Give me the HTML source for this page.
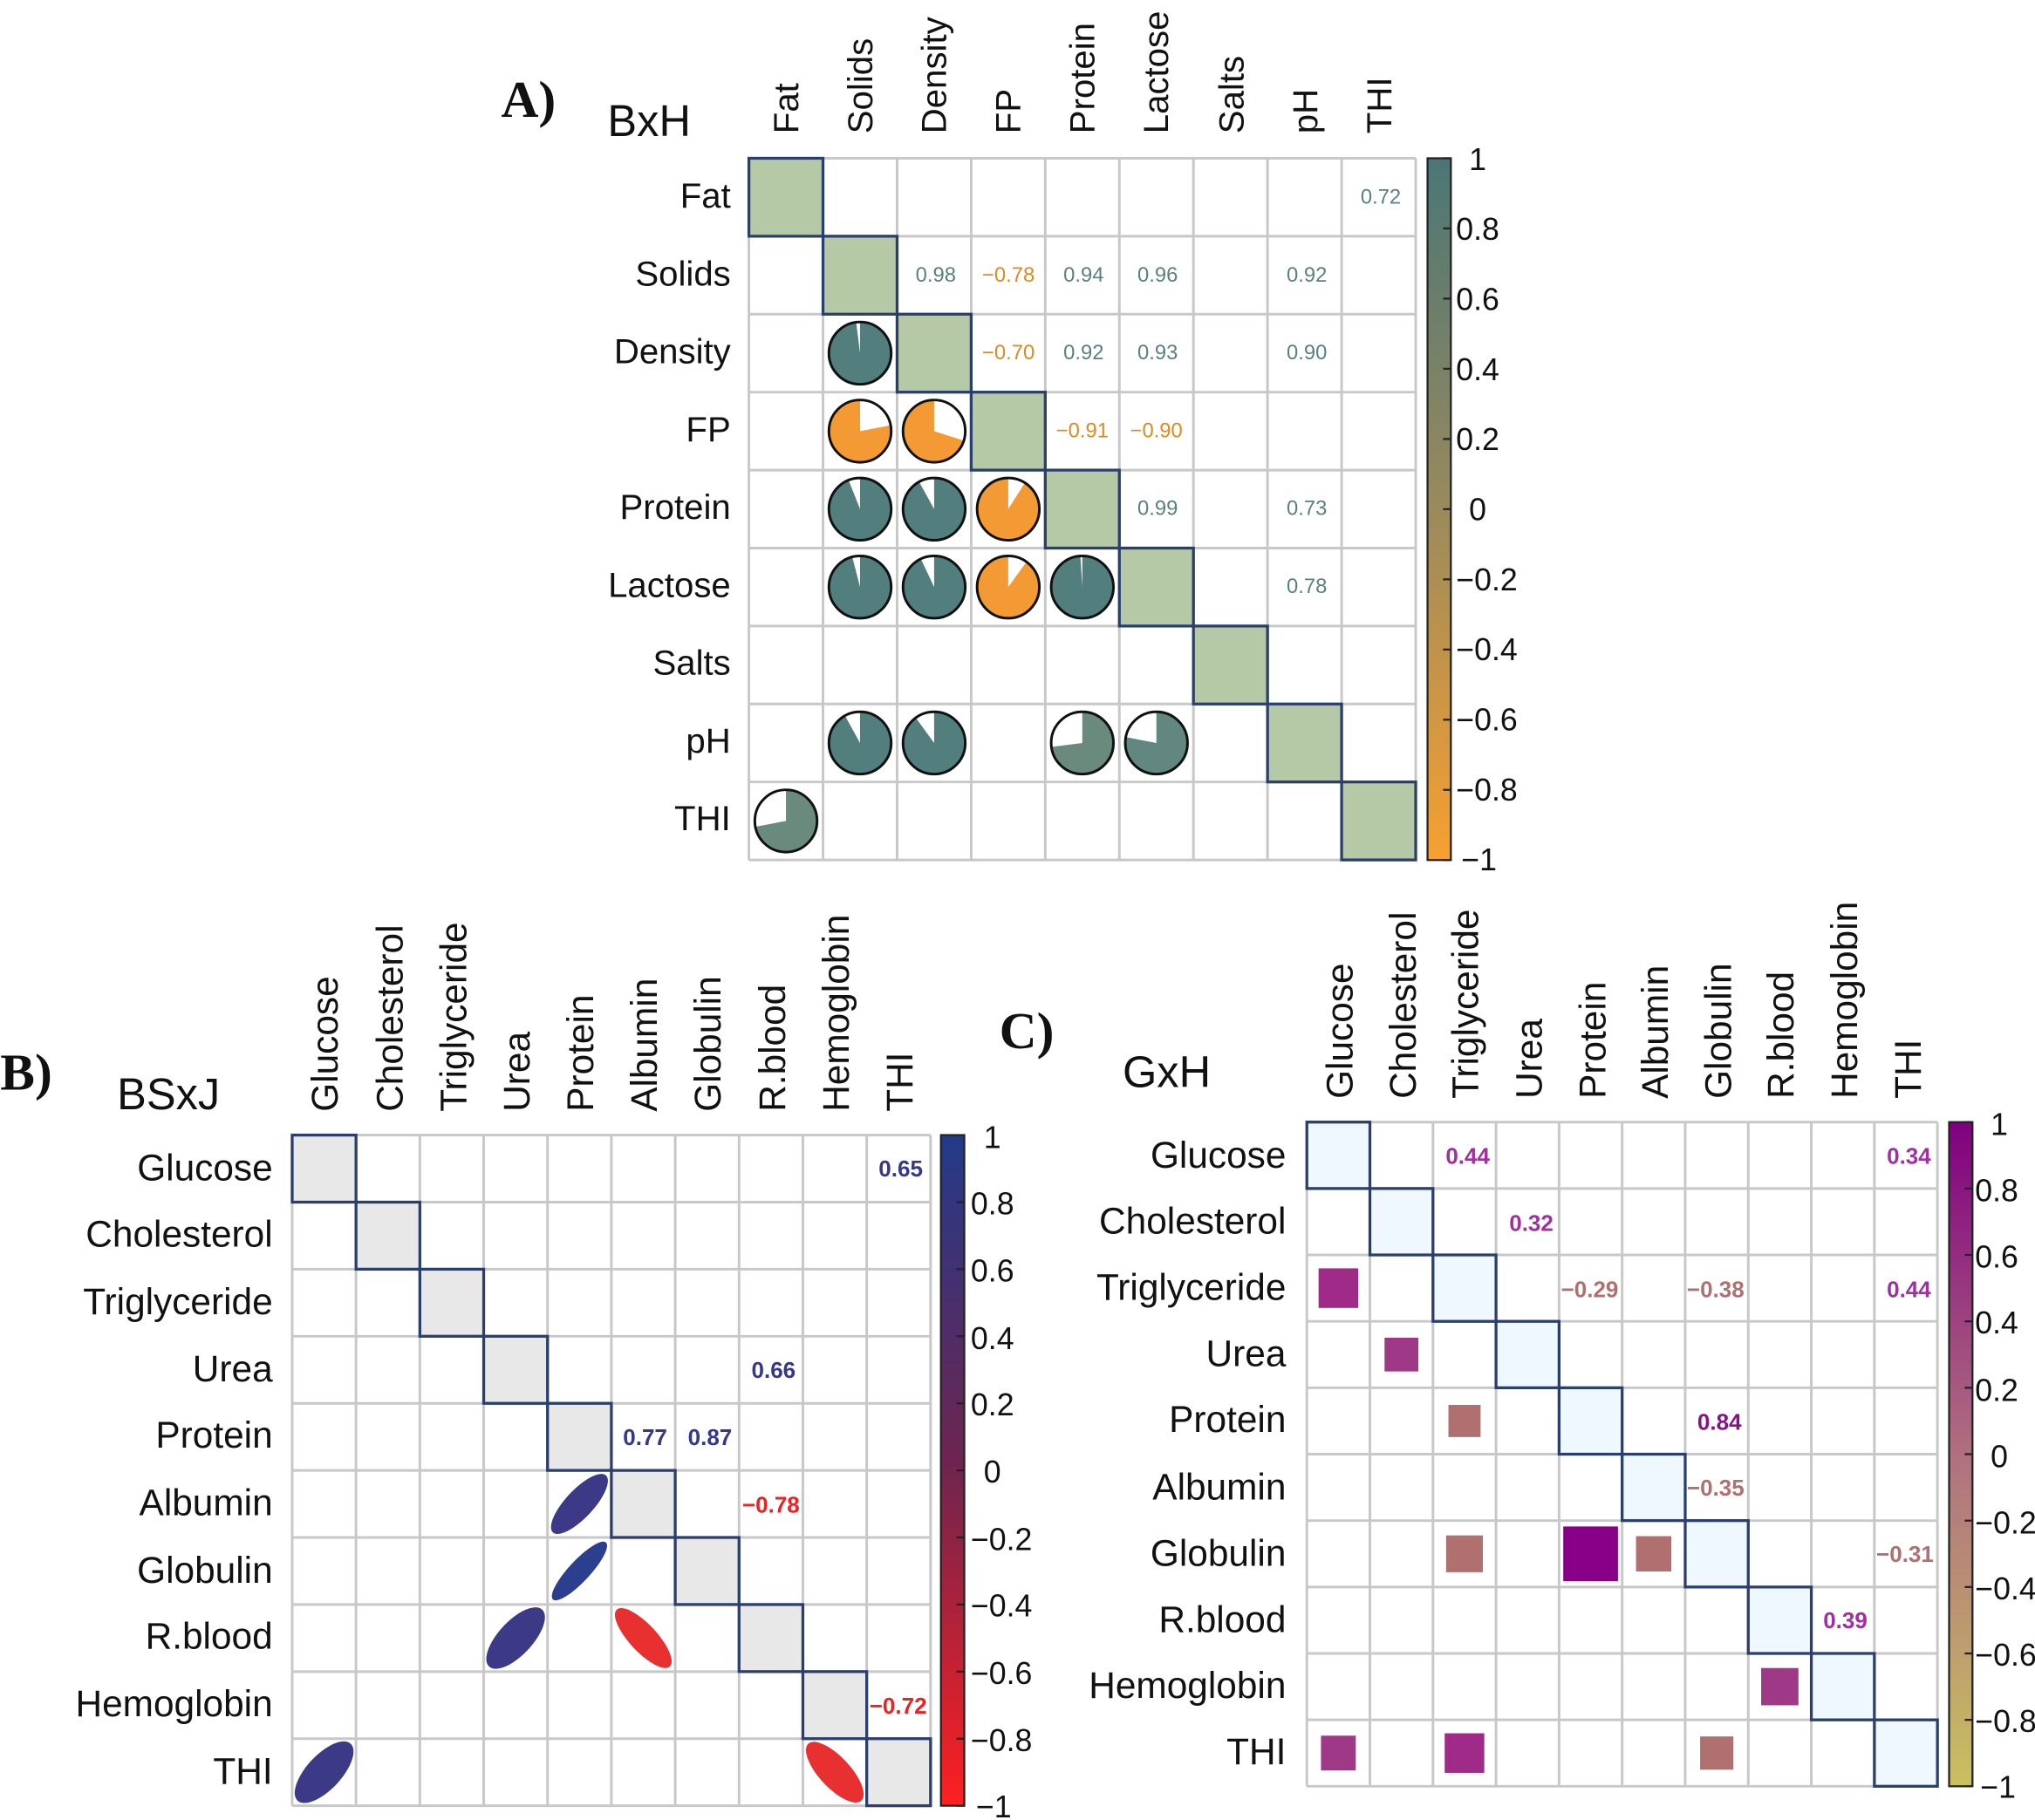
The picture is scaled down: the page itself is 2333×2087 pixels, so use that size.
<!DOCTYPE html>
<html><head><meta charset="utf-8"><style>
html,body{margin:0;padding:0;background:#fff}
svg{display:block}
text{font-family:"Liberation Sans",sans-serif;fill:#111}
.lab{font-size:27px}
.labb{font-size:28.5px}
.v{font-size:16px}
.vb{font-size:17.5px;font-weight:600}
.ser{font-family:"Liberation Serif",serif;font-weight:bold;font-size:40px}
</style></head><body>
<svg id="s" width="2333" height="2087" viewBox="0 0 1568 1403" xmlns="http://www.w3.org/2000/svg">
<defs>
<linearGradient id="gA" x1="0" y1="0" x2="0" y2="1"><stop offset="0" stop-color="#4a7676"/><stop offset="0.5" stop-color="#9a8a5c"/><stop offset="1" stop-color="#f7a030"/></linearGradient>
<linearGradient id="gB" x1="0" y1="0" x2="0" y2="1"><stop offset="0" stop-color="#223a8a"/><stop offset="0.5" stop-color="#70244e"/><stop offset="1" stop-color="#ff2020"/></linearGradient>
<linearGradient id="gC" x1="0" y1="0" x2="0" y2="1"><stop offset="0" stop-color="#800080"/><stop offset="0.5" stop-color="#b07080"/><stop offset="1" stop-color="#c8c060"/></linearGradient>
</defs>
<g id="shapes"></g>

<!-- Panel A -->
<text class="ser" x="386" y="90">A)</text>
<text x="468" y="105" style="font-size:34px">BxH</text>
<g class="lab" text-anchor="end">
<text x="563" y="160">Fat</text><text x="563" y="220">Solids</text><text x="563" y="280">Density</text>
<text x="563" y="340">FP</text><text x="563" y="400">Protein</text><text x="563" y="460">Lactose</text>
<text x="563" y="520">Salts</text><text x="563" y="580">pH</text><text x="563" y="640">THI</text>
</g>
<g class="lab">
<text transform="translate(615,103) rotate(-90)">Fat</text>
<text transform="translate(672,103) rotate(-90)">Solids</text>
<text transform="translate(729,103) rotate(-90)">Density</text>
<text transform="translate(786,103) rotate(-90)">FP</text>
<text transform="translate(843,103) rotate(-90)">Protein</text>
<text transform="translate(900,103) rotate(-90)">Lactose</text>
<text transform="translate(958,103) rotate(-90)">Salts</text>
<text transform="translate(1015,103) rotate(-90)">pH</text>
<text transform="translate(1072,103) rotate(-90)">THI</text>
</g>
<g class="v" text-anchor="middle">
<text x="1064" y="157" style="fill:#5a8080">0.72</text>
<text x="721" y="217" style="fill:#5a8080">0.98</text><text x="777" y="217" style="fill:#e08a20">−0.78</text><text x="835" y="217" style="fill:#5a8080">0.94</text><text x="892" y="217" style="fill:#5a8080">0.96</text><text x="1007" y="217" style="fill:#5a8080">0.92</text>
<text x="777" y="277" style="fill:#e08a20">−0.70</text><text x="835" y="277" style="fill:#5a8080">0.92</text><text x="892" y="277" style="fill:#5a8080">0.93</text><text x="1007" y="277" style="fill:#5a8080">0.90</text>
<text x="834" y="337" style="fill:#e08a20">−0.91</text><text x="891" y="337" style="fill:#e08a20">−0.90</text>
<text x="892" y="397" style="fill:#5a8080">0.99</text><text x="1007" y="397" style="fill:#5a8080">0.73</text>
<text x="1007" y="457" style="fill:#5a8080">0.78</text>
</g>
<g style="font-size:24px">
<text x="1132" y="131">1</text><text x="1122" y="185">0.8</text><text x="1122" y="239">0.6</text><text x="1122" y="293">0.4</text><text x="1122" y="347">0.2</text><text x="1132" y="401">0</text><text x="1122" y="455">−0.2</text><text x="1122" y="509">−0.4</text><text x="1122" y="563">−0.6</text><text x="1122" y="617">−0.8</text><text x="1126" y="671">−1</text>
</g>

<!-- Panel B -->
<text class="ser" x="0" y="840">B)</text>
<text x="90" y="855" style="font-size:34px">BSxJ</text>
<g class="labb" text-anchor="end">
<text x="210" y="910">Glucose</text><text x="210" y="961">Cholesterol</text><text x="210" y="1013">Triglyceride</text><text x="210" y="1065">Urea</text><text x="210" y="1116">Protein</text><text x="210" y="1168">Albumin</text><text x="210" y="1220">Globulin</text><text x="210" y="1271">R.blood</text><text x="210" y="1323">Hemoglobin</text><text x="210" y="1375">THI</text>
</g>
<g class="labb">
<text transform="translate(260,857) rotate(-90)">Glucose</text>
<text transform="translate(310,857) rotate(-90)">Cholesterol</text>
<text transform="translate(359,857) rotate(-90)">Triglyceride</text>
<text transform="translate(408,857) rotate(-90)">Urea</text>
<text transform="translate(457,857) rotate(-90)">Protein</text>
<text transform="translate(506,857) rotate(-90)">Albumin</text>
<text transform="translate(555,857) rotate(-90)">Globulin</text>
<text transform="translate(605,857) rotate(-90)">R.blood</text>
<text transform="translate(654,857) rotate(-90)">Hemoglobin</text>
<text transform="translate(703,857) rotate(-90)">THI</text>
</g>
<g class="vb" text-anchor="middle">
<text x="694" y="907" style="fill:#35388a">0.65</text>
<text x="596" y="1062" style="fill:#35388a">0.66</text>
<text x="497" y="1114" style="fill:#35388a">0.77</text><text x="547" y="1114" style="fill:#35388a">0.87</text>
<text x="594" y="1166" style="fill:#ee2020">−0.78</text>
<text x="692" y="1321" style="fill:#ee2020">−0.72</text>
</g>
<g style="font-size:24px">
<text x="758" y="885">1</text><text x="748" y="936">0.8</text><text x="748" y="988">0.6</text><text x="748" y="1040">0.4</text><text x="748" y="1091">0.2</text><text x="758" y="1143">0</text><text x="748" y="1195">−0.2</text><text x="748" y="1246">−0.4</text><text x="748" y="1298">−0.6</text><text x="748" y="1350">−0.8</text><text x="752" y="1401">−1</text>
</g>

<!-- Panel C -->
<text class="ser" x="770" y="808">C)</text>
<text x="865" y="838" style="font-size:34px">GxH</text>
<g class="labb" text-anchor="end">
<text x="991" y="900">Glucose</text><text x="991" y="951">Cholesterol</text><text x="991" y="1002">Triglyceride</text><text x="991" y="1053">Urea</text><text x="991" y="1104">Protein</text><text x="991" y="1156">Albumin</text><text x="991" y="1207">Globulin</text><text x="991" y="1258">R.blood</text><text x="991" y="1309">Hemoglobin</text><text x="991" y="1360">THI</text>
</g>
<g class="labb">
<text transform="translate(1042,847) rotate(-90)">Glucose</text>
<text transform="translate(1091,847) rotate(-90)">Cholesterol</text>
<text transform="translate(1139,847) rotate(-90)">Triglyceride</text>
<text transform="translate(1188,847) rotate(-90)">Urea</text>
<text transform="translate(1237,847) rotate(-90)">Protein</text>
<text transform="translate(1285,847) rotate(-90)">Albumin</text>
<text transform="translate(1334,847) rotate(-90)">Globulin</text>
<text transform="translate(1382,847) rotate(-90)">R.blood</text>
<text transform="translate(1431,847) rotate(-90)">Hemoglobin</text>
<text transform="translate(1480,847) rotate(-90)">THI</text>
</g>
<g class="vb" text-anchor="middle">
<text x="1131" y="897" style="fill:#a030a0">0.44</text><text x="1471" y="897" style="fill:#a030a0">0.34</text>
<text x="1180" y="949" style="fill:#a030a0">0.32</text>
<text x="1225" y="1000" style="fill:#b07070">−0.29</text><text x="1322" y="1000" style="fill:#b07070">−0.38</text><text x="1471" y="1000" style="fill:#a030a0">0.44</text>
<text x="1325" y="1102" style="fill:#8a108a">0.84</text>
<text x="1322" y="1153" style="fill:#b07070">−0.35</text>
<text x="1468" y="1204" style="fill:#b07070">−0.31</text>
<text x="1422" y="1255" style="fill:#a030a0">0.39</text>
</g>
<g style="font-size:24px">
<text x="1534" y="875">1</text><text x="1522" y="926">0.8</text><text x="1522" y="977">0.6</text><text x="1522" y="1028">0.4</text><text x="1522" y="1080">0.2</text><text x="1534" y="1131">0</text><text x="1522" y="1182">−0.2</text><text x="1522" y="1233">−0.4</text><text x="1522" y="1284">−0.6</text><text x="1522" y="1335">−0.8</text><text x="1526" y="1386">−1</text>
</g>
</svg>
<script>
var NS="http://www.w3.org/2000/svg",G=document.getElementById("shapes");
function el(t,a){var e=document.createElementNS(NS,t);for(var k in a)e.setAttribute(k,a[k]);G.appendChild(e);return e;}
function grid(x0,y0,cw,ch,n,diagFill){
 for(var i=0;i<n;i++){el("rect",{x:x0+i*cw,y:y0+i*ch,width:cw,height:ch,fill:diagFill});}
 for(var i=0;i<=n;i++){
  el("line",{x1:x0+i*cw,y1:y0,x2:x0+i*cw,y2:y0+n*ch,stroke:"#c8c8c8","stroke-width":2});
  el("line",{x1:x0,y1:y0+i*ch,x2:x0+n*cw,y2:y0+i*ch,stroke:"#c8c8c8","stroke-width":2});
 }
 for(var i=0;i<n;i++){el("rect",{x:x0+i*cw,y:y0+i*ch,width:cw,height:ch,fill:"none",stroke:"#2a3f6e","stroke-width":2.2});}
}
function cbar(x,y0,y1,g){el("rect",{x:x,y:y0,width:18,height:y1-y0,fill:"url(#"+g+")",stroke:"#222","stroke-width":1.5});
 for(var i=0;i<=10;i++){var y=y0+(y1-y0)*i/10;el("line",{x1:x+12,y1:y,x2:x+18,y2:y,stroke:"#222","stroke-width":1.5});}}
var ax=577,ay=122,acw=57.1,ach=60.1;
grid(ax,ay,acw,ach,9,"#b6c9a6");
cbar(1100,122,663,"gA");
function pie(c,r,v,col){var cx=ax+(c+.5)*acw,cy=ay+(r+.5)*ach,R=24;
 el("circle",{cx:cx,cy:cy,r:R,fill:"#fff"});
 var a=Math.abs(v)*2*Math.PI,s=v>0?1:-1;
 var ex=cx+s*R*Math.sin(a),ey=cy-R*Math.cos(a);
 el("path",{d:"M"+cx+","+cy+"L"+cx+","+(cy-R)+"A"+R+","+R+" 0 "+(a>Math.PI?1:0)+","+(v>0?1:0)+" "+ex+","+ey+"Z",fill:col});
 el("circle",{cx:cx,cy:cy,r:R,fill:"none",stroke:"#111","stroke-width":2});}
var T="#527e7e",O="#f39a34";
pie(1,2,.98,T);pie(1,3,-.78,O);pie(2,3,-.70,O);
pie(1,4,.94,T);pie(2,4,.92,T);pie(3,4,-.91,O);
pie(1,5,.96,T);pie(2,5,.93,T);pie(3,5,-.90,O);pie(4,5,.99,T);
pie(1,7,.92,T);pie(2,7,.90,T);pie(4,7,.73,"#6a8a7e");pie(5,7,.78,"#628680");
pie(0,8,.72,"#6a8a7e");
var bx=225,by=875,bcw=49.2,bch=51.7;
grid(bx,by,bcw,bch,10,"#e8e8e8");
cbar(725,875,1392,"gB");
function ell(c,r,v,col){var cx=bx+(c+.5)*bcw,cy=by+(r+.5)*bch;
 el("ellipse",{cx:cx,cy:cy,rx:30,ry:30*Math.sqrt(1-Math.abs(v))*0.75,fill:col,transform:"rotate("+(v>0?-47:47)+" "+cx+" "+cy+")"});}
ell(4,5,.77,"#3c3a86");ell(4,6,.87,"#2c3e8e");ell(3,7,.66,"#3c3a86");ell(5,7,-.78,"#e83030");ell(0,9,.65,"#3c3a86");ell(8,9,-.72,"#e83030");
var cx0=1007,cy0=865,ccw=48.6,cch=51.2;
grid(cx0,cy0,ccw,cch,10,"#f0f8ff");
cbar(1502,865,1377,"gC");
function sq(c,r,v,col){var cx=cx0+(c+.5)*ccw,cy=cy0+(r+.5)*cch,s=Math.sqrt(Math.abs(v))*46;
 el("rect",{x:cx-s/2,y:cy-s/2,width:s,height:s,fill:col});}
sq(0,2,.44,"#a02a88");sq(1,3,.32,"#a03888");sq(2,4,-.29,"#b07070");sq(2,6,-.38,"#b07070");sq(4,6,.84,"#880088");sq(5,6,-.35,"#b07070");sq(7,8,.39,"#a03888");sq(0,9,.34,"#a03888");sq(2,9,.44,"#a02a88");sq(6,9,-.31,"#b07070");
</script>
</body></html>
